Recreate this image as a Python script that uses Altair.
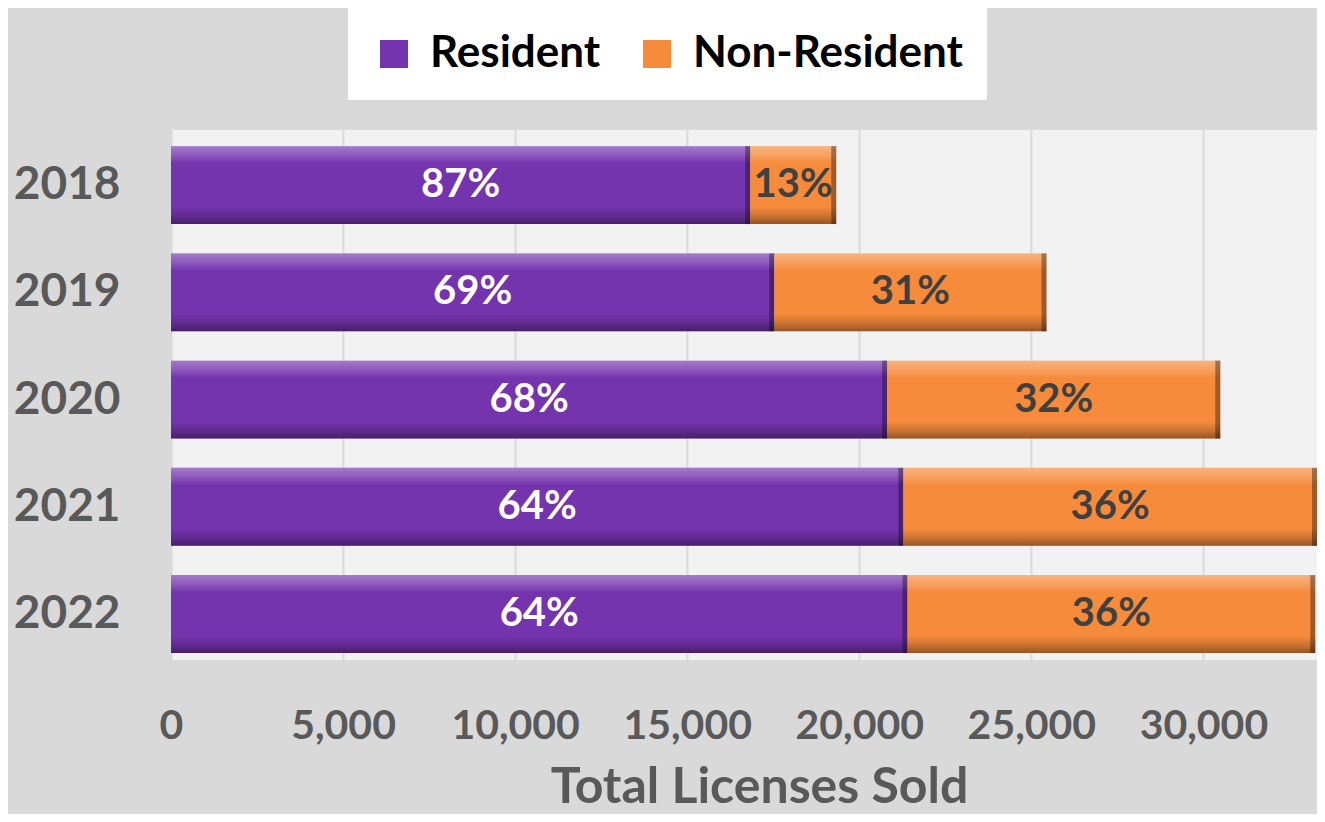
import altair as alt
import pandas as pd

years = ["2018", "2019", "2020", "2021", "2022"]
resident = [16830, 17530, 20810, 21280, 21400]
nonresident = [2500, 7910, 9680, 12020, 11850]
res_pct = ["87%", "69%", "68%", "64%", "64%"]
non_pct = ["13%", "31%", "32%", "36%", "36%"]
series = ["Resident", "Non-Resident"]
colors = ["#7434ae", "#f68b3c"]
x_ticks = [0, 5000, 10000, 15000, 20000, 25000, 30000]

rows = []
for y, r, n, rp, npct in zip(years, resident, nonresident, res_pct, non_pct):
    rows.append({"year": y, "series": series[0], "start": 0, "end": r,
                 "mid": r / 2, "label": rp, "order": 0})
    rows.append({"year": y, "series": series[1], "start": r, "end": r + n,
                 "mid": r + n / 2, "label": npct, "order": 1})
df = pd.DataFrame(rows)

FONT = "Lato"
GRAY = "#595959"

xscale = alt.Scale(domain=[0, 33300], nice=False, zero=True)
yscale = alt.Scale(paddingInner=0.273, paddingOuter=0.1075, align=0.7)

xenc = alt.X("start:Q", scale=xscale,
             axis=alt.Axis(values=x_ticks, format=",d", grid=True, gridColor="#d9d9d9",
                           gridWidth=2, domain=False, ticks=False, tickSize=0,
                           labelFlush=False,
                           labelFont=FONT, labelFontSize=41, labelFontWeight="bold",
                           labelColor=GRAY, labelPadding=46,
                           title="Total Licenses Sold", titleFont=FONT, titleFontSize=50,
                           titleFontWeight="bold", titleColor=GRAY, titleX=588, titleY=142,
                           titleBaseline="alphabetic", titleAnchor="middle"))
yenc = alt.Y("year:N", scale=yscale, sort=years,
             axis=alt.Axis(title=None, domain=False, ticks=False, tickSize=0,
                           labelFont=FONT, labelFontSize=46, labelFontWeight="bold",
                           labelColor=GRAY, labelPadding=51))

base = alt.Chart(df)

bars = base.mark_bar().encode(
    x=xenc,
    x2="end:Q",
    y=yenc,
    color=alt.Color("series:N", scale=alt.Scale(domain=series, range=colors),
                    legend=alt.Legend(title=None, orient="none", direction="horizontal",
                                      legendX=177, legendY=-122, fillColor="white",
                                      padding=24, symbolType="square", symbolSize=784,
                                      symbolStrokeWidth=0, labelFont=FONT,
                                      labelFontSize=44, labelFontWeight="bold",
                                      labelColor="#000000", labelOffset=14,
                                      labelLimit=500, columnPadding=34)),
    order="order:Q",
)

shade = base.mark_bar(
    fill=alt.Gradient(
        gradient="linear", x1=0, x2=0, y1=0, y2=1,
        stops=[
            alt.GradientStop(color="rgba(255,255,255,0.35)", offset=0),
            alt.GradientStop(color="rgba(255,255,255,0.18)", offset=0.12),
            alt.GradientStop(color="rgba(255,255,255,0)", offset=0.22),
            alt.GradientStop(color="rgba(0,0,0,0)", offset=0.78),
            alt.GradientStop(color="rgba(0,0,0,0.18)", offset=0.9),
            alt.GradientStop(color="rgba(0,0,0,0.4)", offset=1),
        ],
    )
).encode(x="start:Q", x2="end:Q", y=alt.Y("year:N", sort=years))

edge = base.mark_tick(color="black", opacity=0.35, thickness=5, size=78,
                      xOffset=-2.5).encode(
    x="end:Q", y=alt.Y("year:N", sort=years)
)

txt_res = base.mark_text(font=FONT, fontSize=40, fontWeight="bold", color="white",
                         baseline="middle").encode(
    x="mid:Q", y=alt.Y("year:N", sort=years), text="label:N"
).transform_filter(alt.datum.series == "Resident")

txt_non = base.mark_text(font=FONT, fontSize=40, fontWeight="bold", color="#404040",
                         baseline="middle").encode(
    x="mid:Q", y=alt.Y("year:N", sort=years), text="label:N"
).transform_filter(alt.datum.series == "Non-Resident")

chart = alt.layer(bars, shade, edge, txt_res, txt_non).properties(
    width=1146,
    height=530,
    autosize=alt.AutoSizeParams(type="none"),
    padding={"left": 163, "top": 122, "right": 0, "bottom": 154},
    background="#d9d9d9",
).configure_view(fill="#f2f2f2", stroke=None)

chart.save("out.html", embed_options={"renderer": "svg", "actions": False})
